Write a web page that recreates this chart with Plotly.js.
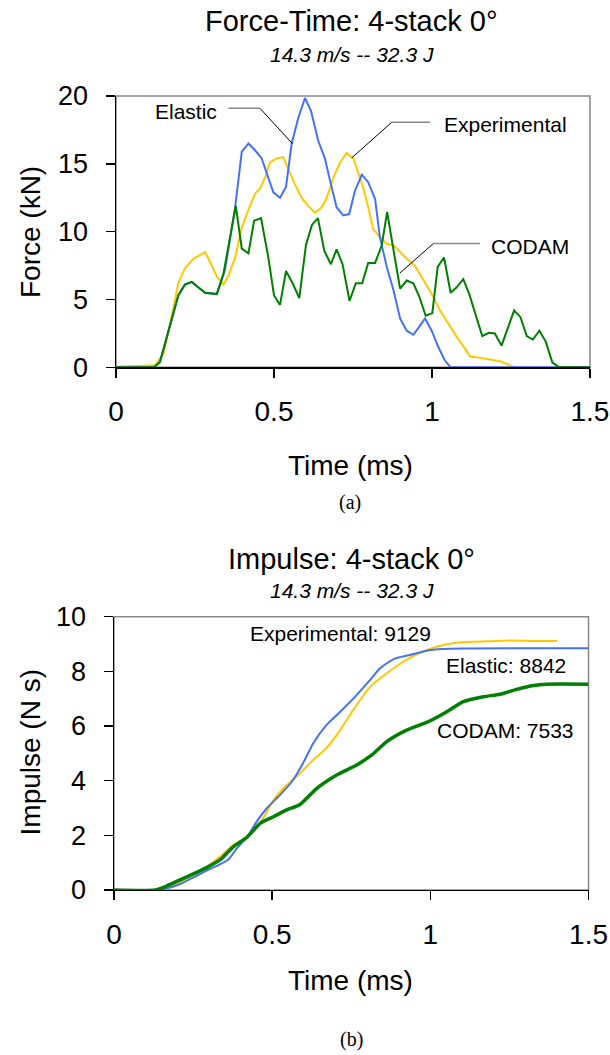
<!DOCTYPE html>
<html>
<head>
<meta charset="utf-8">
<script src="https://cdn.plot.ly/plotly-3.0.1.min.js"></script>
<style>html,body{margin:0;padding:0;background:#fff;}#chart{width:610px;height:1055px;}</style>
</head>
<body>
<div id="chart"></div>
<script>
// ---- Force-Time data (a) ----
const elasticT = [0, 0.12, 0.139, 0.171, 0.197, 0.218, 0.24, 0.26, 0.282, 0.319, 0.345, 0.377, 0.398, 0.419, 0.44, 0.461, 0.477, 0.498, 0.519, 0.538, 0.556, 0.577, 0.598, 0.617, 0.64, 0.661, 0.677, 0.698, 0.719, 0.738, 0.756, 0.778, 0.798, 0.82, 0.835, 0.857, 0.878, 0.899, 0.92, 0.941, 0.96, 0.978, 0.999, 1.02, 1.041, 1.059, 1.5];
const elasticF = [0, 0, 0.4, 3.2, 5.3, 6.1, 6.3, 5.9, 5.5, 5.4, 7.2, 11.8, 15.9, 16.5, 16.0, 15.4, 14.3, 12.9, 12.5, 13.3, 16.5, 18.4, 19.85, 18.9, 16.7, 15.4, 13.8, 11.8, 11.2, 11.3, 13.0, 14.2, 13.65, 12.4, 9.6, 7.4, 5.7, 3.6, 2.7, 2.4, 3.0, 3.6, 2.7, 1.5, 0.5, 0, 0];

const codamT = [0, 0.12, 0.139, 0.171, 0.197, 0.218, 0.24, 0.26, 0.282, 0.319, 0.34, 0.361, 0.379, 0.398, 0.419, 0.437, 0.459, 0.482, 0.5, 0.519, 0.538, 0.559, 0.58, 0.601, 0.62, 0.639, 0.659, 0.68, 0.698, 0.717, 0.739, 0.759, 0.779, 0.798, 0.82, 0.841, 0.858, 0.88, 0.899, 0.92, 0.941, 0.96, 0.98, 1.001, 1.018, 1.038, 1.059, 1.078, 1.099, 1.118, 1.138, 1.159, 1.18, 1.199, 1.22, 1.239, 1.26, 1.28, 1.3, 1.319, 1.34, 1.36, 1.381, 1.403, 1.5];
const codamF = [0, 0, 0.4, 3.2, 5.3, 6.1, 6.3, 5.9, 5.5, 5.4, 6.9, 9.6, 11.9, 8.75, 8.4, 10.8, 11.0, 8.1, 5.3, 4.6, 7.1, 6.2, 5.1, 9.0, 10.5, 11.0, 8.6, 7.6, 8.7, 7.6, 4.9, 6.2, 6.2, 7.7, 7.7, 9.0, 11.45, 8.4, 5.8, 6.4, 6.2, 5.2, 3.8, 4.0, 7.4, 8.1, 5.5, 5.9, 6.5, 5.4, 3.85, 2.3, 2.55, 2.5, 1.6, 2.9, 4.2, 3.7, 2.3, 2.05, 2.7, 1.9, 0.35, 0, 0];

const expT = [0, 0.05, 0.1, 0.123, 0.15, 0.171, 0.197, 0.218, 0.245, 0.266, 0.282, 0.297, 0.319, 0.34, 0.355, 0.377, 0.398, 0.419, 0.44, 0.456, 0.472, 0.487, 0.508, 0.529, 0.545, 0.566, 0.587, 0.608, 0.63, 0.651, 0.667, 0.688, 0.709, 0.73, 0.751, 0.767, 0.783, 0.798, 0.814, 0.835, 0.857, 0.878, 0.899, 0.92, 0.946, 0.973, 0.999, 1.025, 1.052, 1.078, 1.104, 1.12, 1.152, 1.184, 1.215, 1.257];
const expF = [0.05, 0.1, 0.1, 0.15, 1.0, 3.2, 6.2, 7.3, 8.0, 8.26, 8.5, 7.8, 6.7, 6.1, 6.7, 8.1, 10.3, 11.6, 12.8, 13.2, 14.0, 15.1, 15.4, 15.5, 14.6, 13.5, 12.5, 11.9, 11.4, 11.8, 12.5, 14.0, 15.1, 15.8, 15.4, 14.3, 13.2, 11.8, 10.2, 9.6, 9.1, 9.0, 8.5, 8.0, 7.5, 6.4, 5.4, 4.2, 3.2, 2.25, 1.4, 0.8, 0.7, 0.6, 0.45, 0.05];

// ---- Impulse data (b) ----
const elasticIT = [0, 0.13, 0.167, 0.209, 0.251, 0.293, 0.335, 0.362, 0.388, 0.42, 0.451, 0.483, 0.525, 0.562, 0.598, 0.63, 0.672, 0.715, 0.757, 0.809, 0.841, 0.883, 0.936, 0.999, 1.062, 1.5];
const elasticI = [0, 0, 0.06, 0.22, 0.46, 0.71, 0.94, 1.12, 1.52, 1.93, 2.5, 2.99, 3.48, 3.96, 4.65, 5.37, 6.04, 6.52, 7.01, 7.68, 8.11, 8.44, 8.6, 8.78, 8.83, 8.84];

const expIT = [0, 0.13, 0.167, 0.209, 0.251, 0.293, 0.335, 0.377, 0.42, 0.462, 0.504, 0.546, 0.588, 0.63, 0.672, 0.715, 0.757, 0.809, 0.862, 0.915, 0.967, 1.02, 1.094, 1.178, 1.262, 1.326, 1.4];
const expI = [0, 0, 0.1, 0.3, 0.55, 0.85, 1.22, 1.65, 1.93, 2.44, 3.29, 3.84, 4.27, 4.76, 5.2, 5.85, 6.6, 7.42, 7.93, 8.35, 8.68, 8.9, 9.06, 9.1, 9.13, 9.11, 9.11];

const codamIT = [0, 0.13, 0.167, 0.209, 0.251, 0.293, 0.335, 0.377, 0.42, 0.462, 0.504, 0.546, 0.588, 0.641, 0.704, 0.767, 0.815, 0.862, 0.925, 0.994, 1.052, 1.104, 1.168, 1.22, 1.273, 1.326, 1.368, 1.5];
const codamI = [0, 0, 0.15, 0.37, 0.59, 0.82, 1.1, 1.58, 1.93, 2.44, 2.68, 2.93, 3.13, 3.72, 4.21, 4.57, 4.94, 5.43, 5.85, 6.16, 6.52, 6.89, 7.07, 7.16, 7.34, 7.48, 7.53, 7.53];

const xTicks = [0, 0.5, 1, 1.5];
const xTickText = ['0', '0.5', '1', '1.5'];
const yTicksA = [0, 5, 10, 15, 20];
const yTicksB = [0, 2, 4, 6, 8, 10];

const BLUE = '#4472F4', GOLD = '#FFC800', GREEN = '#008000';
const FONT = 'Liberation Sans, Arial, Helvetica, sans-serif';

const traces = [
  {x: expT, y: expF, xaxis: 'x', yaxis: 'y', mode: 'lines', line: {color: GOLD, width: 2}, name: 'Experimental'},
  {x: elasticT, y: elasticF, xaxis: 'x', yaxis: 'y', mode: 'lines', line: {color: BLUE, width: 2}, name: 'Elastic'},
  {x: codamT, y: codamF, xaxis: 'x', yaxis: 'y', mode: 'lines', line: {color: GREEN, width: 2}, name: 'CODAM'},
  {x: expIT, y: expI, xaxis: 'x2', yaxis: 'y2', mode: 'lines', line: {color: GOLD, width: 2, shape: 'spline', smoothing: 0.6}, name: 'Experimental'},
  {x: elasticIT, y: elasticI, xaxis: 'x2', yaxis: 'y2', mode: 'lines', line: {color: BLUE, width: 2, shape: 'spline', smoothing: 0.6}, name: 'Elastic'},
  {x: codamIT, y: codamI, xaxis: 'x2', yaxis: 'y2', mode: 'lines', line: {color: GREEN, width: 3.5, shape: 'spline', smoothing: 0.6}, name: 'CODAM'}
];

function xAx(domain, anchor) {
  return {domain: domain, anchor: anchor, range: [0, 1.5], tickvals: xTicks, ticktext: xTickText,
    ticks: 'outside', ticklen: 9, tickwidth: 1.5, tickcolor: '#000', showline: true, linecolor: '#000', linewidth: 1.5,
    showgrid: false, zeroline: false, tickfont: {family: FONT, size: 28, color: '#000'}, ticklabelstandoff: 10, fixedrange: true};
}
function yAx(domain, anchor, range, vals) {
  return {domain: domain, anchor: anchor, range: range, tickvals: vals,
    ticks: 'outside', ticklen: 9, tickwidth: 1.5, tickcolor: '#000', showline: true, linecolor: '#000', linewidth: 1.5,
    showgrid: false, zeroline: false, tickfont: {family: FONT, size: 27, color: '#000'}, ticklabelstandoff: 12, fixedrange: true};
}

function frame(xr, yr) {
  return {type: 'rect', xref: xr + ' domain', yref: yr + ' domain', x0: 0, x1: 1, y0: 0, y1: 1,
    line: {color: '#888', width: 1.5}, layer: 'below'};
}
function seg(x0, y0, x1, y1, color, w, xr, yr) {
  return {type: 'line', xref: xr, yref: yr, x0: x0, y0: y0, x1: x1, y1: y1, line: {color: color, width: w}};
}

function txt(text, x, y, size, opts) {
  return Object.assign({text: text, x: x, y: y, xref: 'paper', yref: 'paper', showarrow: false,
    xanchor: 'center', yanchor: 'middle', font: {family: FONT, size: size, color: '#000'}}, opts || {});
}
function lbl(text, x, y, xr, yr, opts) {
  return Object.assign({text: text, x: x, y: y, xref: xr, yref: yr, showarrow: false,
    xanchor: 'center', yanchor: 'middle', font: {family: FONT, size: 21, color: '#000'}}, opts || {});
}

const SERIF = {family: 'Liberation Serif, Times New Roman, serif', size: 20, color: '#000'};

const layout = {
  width: 610, height: 1055, margin: {l: 0, r: 0, t: 0, b: 0},
  paper_bgcolor: '#fff', plot_bgcolor: '#fff', showlegend: false,
  xaxis: xAx([0.1902, 0.9672], 'y'),
  yaxis: yAx([0.6518, 0.9090], 'x', [0, 20], yTicksA),
  xaxis2: xAx([0.1869, 0.9648], 'y2'),
  yaxis2: yAx([0.1564, 0.4155], 'x2', [0, 10], yTicksB),
  shapes: [
    frame('x', 'y'), frame('x2', 'y2'),
    seg(0.3554, 19.09, 0.4557, 19.09, '#888', 1.5, 'x', 'y'),
    seg(0.4557, 19.09, 0.5589, 16.47, '#000', 1, 'x', 'y'),
    seg(0.9937, 18.06, 0.8725, 18.06, '#888', 1.5, 'x', 'y'),
    seg(0.8725, 18.06, 0.7459, 15.44, '#000', 1, 'x', 'y'),
    seg(1.1519, 9.12, 1.0041, 9.12, '#888', 1.5, 'x', 'y'),
    seg(1.0041, 9.12, 0.8987, 6.96, '#000', 1, 'x', 'y')
  ],
  annotations: [
    txt('Force-Time: 4-stack 0°', 0.577, 0.9801, 29),
    txt('<i>14.3 m/s -- 32.3 J</i>', 0.577, 0.9479, 21),
    txt('Force (kN)', 0.05, 0.7796, 28, {textangle: -90}),
    txt('Time (ms)', 0.5738, 1 - 465 / 1055, 28),
    txt('(a)', 0.5738, 1 - 503 / 1055, 20, {font: SERIF}),
    txt('Impulse: 4-stack 0°', 0.577, 1 - 559 / 1055, 29),
    txt('<i>14.3 m/s -- 32.3 J</i>', 0.577, 1 - 590 / 1055, 21),
    txt('Impulse (N s)', 0.05, 0.2863, 28, {textangle: -90}),
    txt('Time (ms)', 0.5738, 1 - 980 / 1055, 28),
    txt('(b)', 0.577, 1 - 1039 / 1055, 20, {font: SERIF}),
    lbl('Elastic', 0.2215, 18.85, 'x', 'y'),
    lbl('Experimental', 1.2326, 17.93, 'x', 'y'),
    lbl('CODAM', 1.31, 8.88, 'x', 'y'),
    lbl('Experimental: 9129', 1.008, 9.40, 'x2', 'y2', {xanchor: 'right'}),
    lbl('Elastic: 8842', 1.2405, 8.23, 'x2', 'y2'),
    lbl('CODAM: 7533', 1.239, 5.82, 'x2', 'y2')
  ]
};

Plotly.newPlot('chart', traces, layout, {displayModeBar: false, staticPlot: true});
</script>
</body>
</html>
